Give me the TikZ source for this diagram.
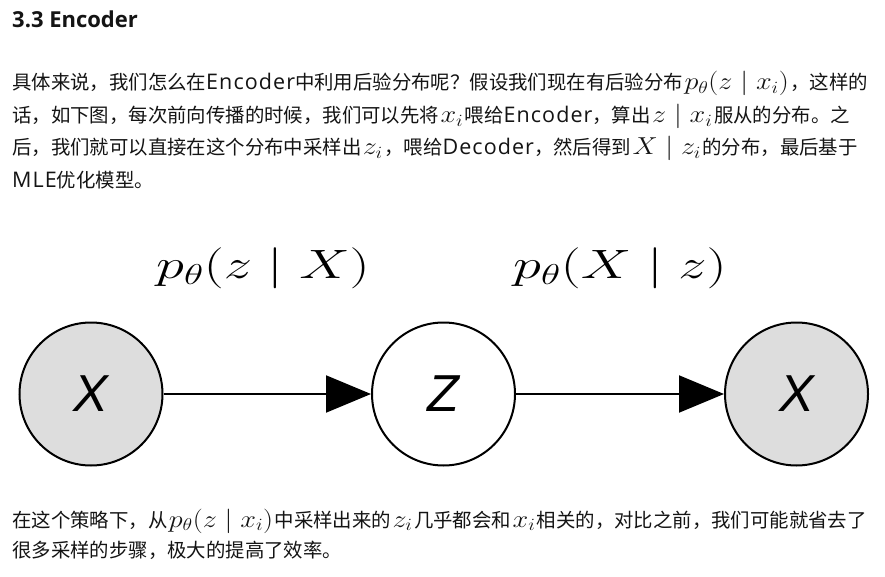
\documentclass[tikz,border=0pt]{standalone}
\usepackage{fix-cm}
\usepackage[no-math]{fontspec}
\usepackage{graphicx}
\usetikzlibrary{arrows.meta}
\newfontfamily\cjk{Noto Sans CJK SC}
\newfontfamily\latin[LetterSpace=5]{Open Sans}
\newfontfamily\headfont{Open Sans}
\newfontfamily\nodefont{Liberation Sans}
\definecolor{ink}{RGB}{20,20,20}
\definecolor{shade}{RGB}{221,221,221}
\newcommand\en[1]{{\fontsize{21.5}{24}\latin #1}}
\newcommand\mth[1]{\hspace{1.5pt}{\fontsize{24.5}{26}\selectfont\scalebox{1.15}[1]{$#1$}}\hspace{1.5pt}}
\tikzset{
  >={Triangle[length=45pt,width=37pt]},
  para/.style={anchor=base west,inner sep=0pt,text=ink,font=\fontsize{19.4}{24}\cjk},
  head/.style={anchor=base west,inner sep=0pt,text=ink,font=\fontsize{22}{24}\headfont\bfseries},
  var/.style={circle,draw=black,fill=#1,line width=2pt,minimum size=143pt,inner sep=0pt,
    font=\fontsize{52}{52}\nodefont\itshape},
  var/.default=white,
  dist/.style={inner sep=0pt,font=\fontsize{41}{44}\selectfont},
  link/.style={->,line width=2pt},
}
\begin{document}
\begin{tikzpicture}[x=1pt,y=-1pt]
  \path[use as bounding box,fill=white] (0,0) rectangle (885,577);
  % heading and first paragraph
  \node[head] (title) at (12,28) {3.3 Encoder};
  \node[para] (p1) at (12,90) {具体来说，我们怎么在\en{Encoder}中利用后验分布呢？假设我们现在有后验分布\mth{p_\theta(z\mid x_i)}，这样的};
  \node[para] (p2) at (12,122.5) {话，如下图，每次前向传播的时候，我们可以先将\mth{x_i}喂给\en{Encoder}，算出\mth{z\mid x_i}服从的分布。之};
  \node[para] (p3) at (12,155) {后，我们就可以直接在这个分布中采样出\mth{z_i}，喂给\en{Decoder}，然后得到\mth{X\mid z_i}的分布，最后基于};
  \node[para] (p4) at (12,187.5) {\en{MLE}优化模型。};

  % graphical model
  \node[var=shade] (xin) at (91,394) {X};
  \node[var] (zlat) at (443.5,394) {Z};
  \node[var=shade] (xout) at (796.5,394) {X};
  \draw[link] (xin) -- (zlat);
  \draw[link] (zlat) -- (xout);
  \node[dist] (enc) at (263,268) {\scalebox{1.38}[1]{$p_\theta(z\mid X)$}};
  \node[dist] (dec) at (620,268) {\scalebox{1.38}[1]{$p_\theta(X\mid z)$}};

  % second paragraph
  \node[para] (p5) at (12,527) {在这个策略下，从\mth{p_\theta(z\mid x_i)}中采样出来的\mth{z_i}几乎都会和\mth{x_i}相关的，对比之前，我们可能就省去了};
  \node[para] (p6) at (12,557) {很多采样的步骤，极大的提高了效率。};
\end{tikzpicture}
\end{document}
